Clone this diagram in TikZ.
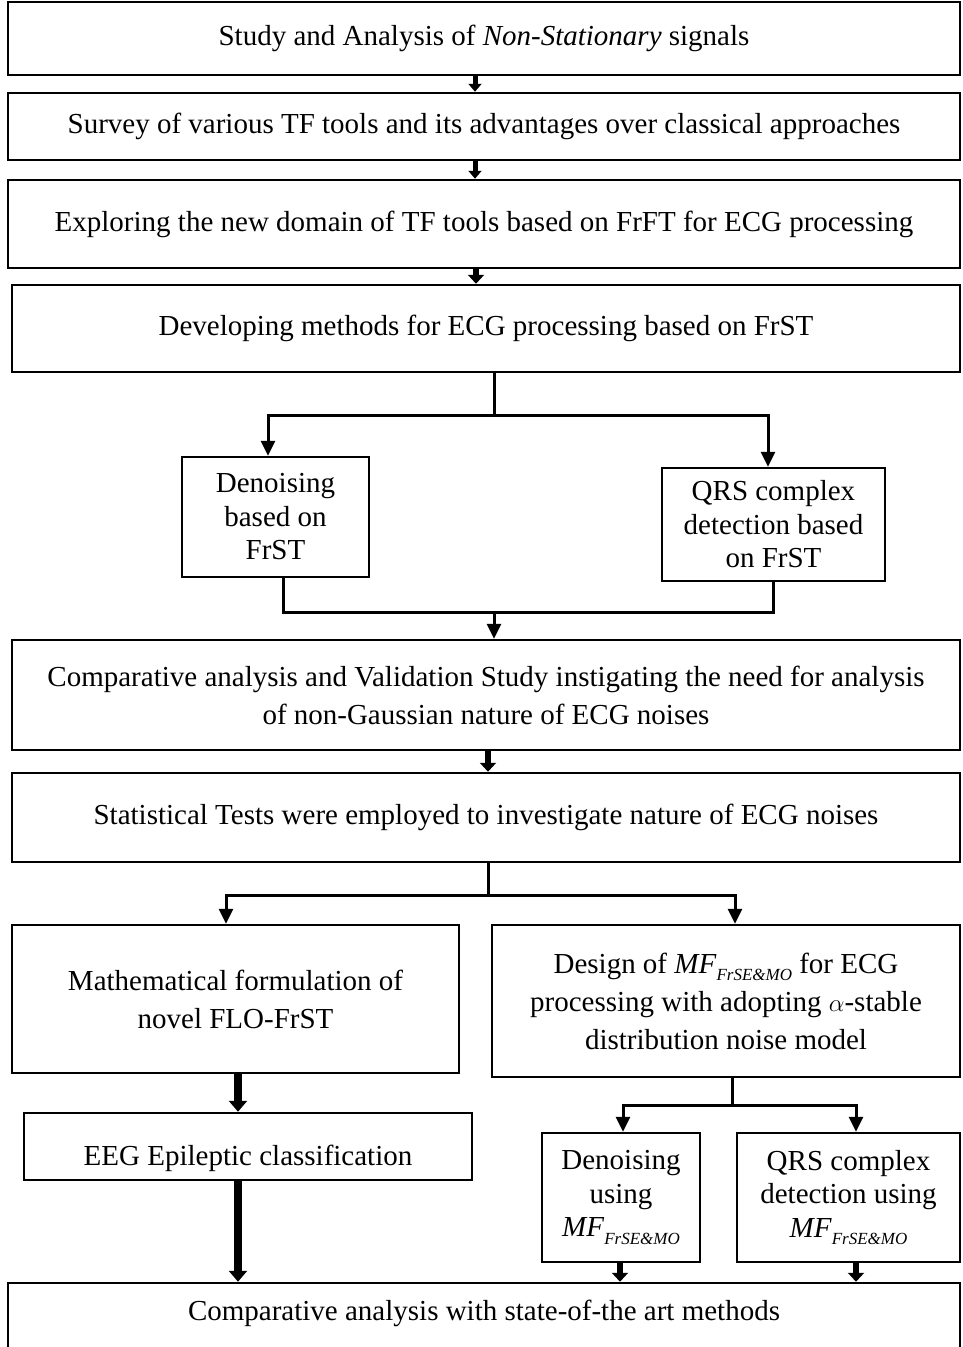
\documentclass[tikz,border=0pt]{standalone}
\usepackage{fontspec}
\setmainfont{Liberation Serif}
\usetikzlibrary{arrows.meta,calc}
\newcommand{\mfsub}{\textit{MF}\raisebox{-0.55ex}{\fontsize{17}{17}\selectfont\textit{FrSE\&MO}}}
\begin{document}
\begin{tikzpicture}[x=1pt,y=-1pt,
  box/.style={draw, line width=2.5pt, rectangle, align=center, inner sep=0pt, font=\fontsize{29}{38}\selectfont},
  tight/.style={font=\fontsize{29}{33.5}\selectfont},
  conn/.style={line width=3pt},
  arr/.style={line width=3pt, -{Triangle[length=15pt,width=14pt]}},
  stub/.style={line width=6pt, -{Triangle[length=9pt,width=16pt]}},
  thinstub/.style={line width=5pt, -{Triangle[length=8pt,width=13pt]}},
  heavy/.style={line width=8pt, -{Triangle[length=11pt,width=18pt]}}]
\useasboundingbox (0,0) rectangle (963,1347);
% boxes
\node[box, minimum width=952pt, minimum height=73pt] (b1) at (484,38.5) {Study and Analysis of \textit{Non-Stationary} signals};
\node[box, minimum width=952pt, minimum height=67pt] (b2) at (484,126.5) {Survey of various TF tools and its advantages over classical approaches};
\node[box, minimum width=952pt, minimum height=88pt] (b3) at (484,224) {Exploring the new domain of TF tools based on FrFT for ECG processing};
\node[box, minimum width=948pt, minimum height=87pt] (b4) at (486,328.5) {Developing methods for ECG processing based on FrST};
\node[box, tight, minimum width=187pt, minimum height=120pt] (d1) at (275.5,517) {Denoising\\based on\\FrST};
\node[box, tight, minimum width=223pt, minimum height=113pt] (q1) at (773.5,524.5) {QRS complex\\detection based\\on FrST};
\node[box, minimum width=948pt, minimum height=110pt] (b5) at (486,695) {Comparative analysis and Validation Study instigating the need for analysis\\of non-Gaussian nature of ECG noises};
\node[box, minimum width=948pt, minimum height=89pt] (b6) at (486,817.5) {Statistical Tests were employed to investigate nature of ECG noises};
\node[box, minimum width=447pt, minimum height=148pt] (b7) at (235.5,999) {Mathematical formulation of\\novel FLO-FrST};
\node[box, minimum width=468pt, minimum height=152pt] (b8) at (726,1001) {Design of \mfsub{} for ECG\\processing with adopting $\alpha$-stable\\distribution noise model};
\node[box, minimum width=448pt, minimum height=67pt, text height=43pt, text depth=6pt] (b9) at (248,1146.5) {EEG Epileptic classification};
\node[box, tight, minimum width=158pt, minimum height=129pt] (d2) at (621,1197.5) {Denoising\\using\\\mfsub};
\node[box, tight, minimum width=223pt, minimum height=129pt] (q2) at (848.5,1197.5) {QRS complex\\detection using\\\mfsub};
\node[box, minimum width=952pt, minimum height=84pt, text height=20pt, text depth=30pt] (b10) at (484,1325) {Comparative analysis with state-of-the art methods};
% connectors
\draw[thinstub] ([xshift=-9pt]b1.south) -- ([xshift=-9pt]b2.north);
\draw[thinstub] ([xshift=-9pt]b2.south) -- ([xshift=-9pt]b3.north);
\draw[stub] ([xshift=-8pt]b3.south) -- ([xshift=-8pt]b3.south |- b4.north);
\coordinate (s1) at (494,415);
\draw[conn] (b4.south -| s1) -- (s1);
\draw[arr] (s1) -| ([xshift=-7.5pt]d1.north);
\draw[arr] (s1) -| ([xshift=-5.5pt]q1.north);
\coordinate (j1) at (494,612);
\draw[conn] ([xshift=7.5pt]d1.south) |- (j1);
\draw[conn] ([xshift=-0.5pt]q1.south) |- (j1);
\draw[arr] (j1) -- (j1 |- b5.north);
\draw[stub] ([xshift=2pt]b5.south) -- ([xshift=2pt]b6.north);
\coordinate (s2) at (488,895);
\draw[conn] (b6.south -| s2) -- (s2);
\draw[arr] (s2) -| ([xshift=-9.5pt]b7.north);
\draw[arr] (s2) -| ([xshift=9pt]b8.north);
\draw[heavy] ([xshift=2.5pt]b7.south) -- ([xshift=2.5pt]b7.south |- b9.north);
\coordinate (s3) at (732,1105);
\draw[conn] (b8.south -| s3) -- (s3);
\draw[arr] (s3) -| ([xshift=2pt]d2.north);
\draw[arr] (s3) -| ([xshift=7.5pt]q2.north);
\draw[heavy] ([xshift=-10pt]b9.south) -- ([xshift=-10pt]b9.south |- b10.north);
\draw[stub] ([xshift=-1pt]d2.south) -- ([xshift=-1pt]d2.south |- b10.north);
\draw[stub] ([xshift=7.5pt]q2.south) -- ([xshift=7.5pt]q2.south |- b10.north);
\end{tikzpicture}
\end{document}
